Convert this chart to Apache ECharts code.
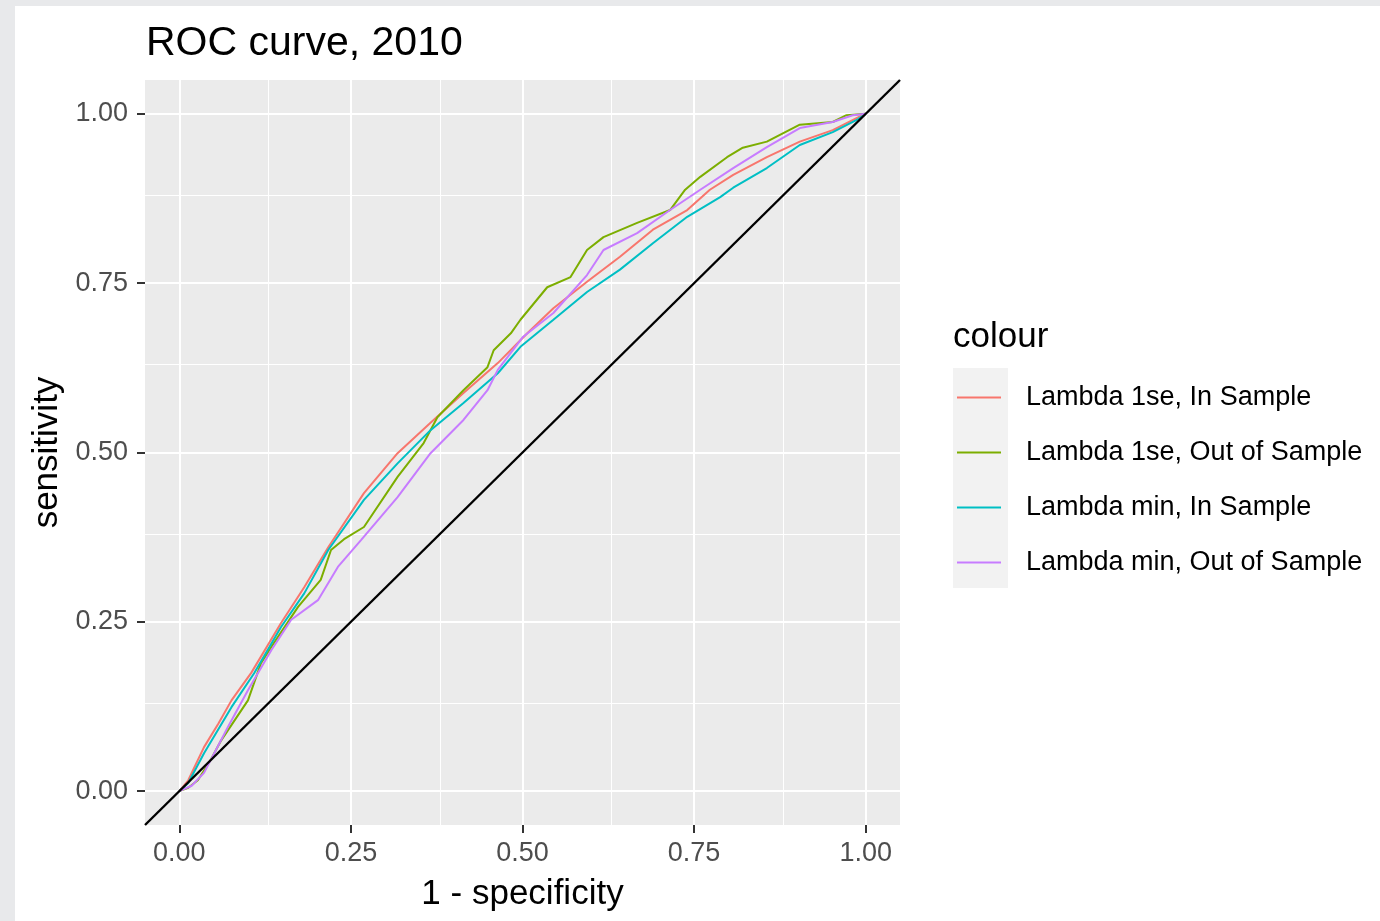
<!DOCTYPE html>
<html>
<head>
<meta charset="utf-8">
<title>ROC curve, 2010</title>
<script src="https://cdn.jsdelivr.net/npm/echarts@6/dist/echarts.min.js"></script>
<style>
  html, body { margin: 0; padding: 0; background: #ffffff; }
  #chart { width: 1380px; height: 921px; }
</style>
</head>
<body>
<div id="chart"></div>
<script>
// Axis breaks
const tickValues = [0, 0.25, 0.5, 0.75, 1];
const minorValues = [0.125, 0.375, 0.625, 0.875];
const axisRange = [-0.05, 1.05];

// Series names
const seriesNames = [
  'Lambda 1se, In Sample',
  'Lambda 1se, Out of Sample',
  'Lambda min, In Sample',
  'Lambda min, Out of Sample'
];

// Lambda 1se, In Sample
const fpr1seIn = [0, 0.013, 0.036, 0.057, 0.076, 0.105, 0.148, 0.182, 0.217, 0.269, 0.318, 0.366, 0.414, 0.464, 0.507, 0.545, 0.594, 0.642, 0.690, 0.740, 0.773, 0.807, 0.856, 0.904, 0.952, 0.991, 1];
const tpr1seIn = [0, 0.016, 0.065, 0.100, 0.134, 0.175, 0.248, 0.301, 0.360, 0.440, 0.499, 0.544, 0.588, 0.632, 0.676, 0.713, 0.752, 0.789, 0.829, 0.858, 0.888, 0.910, 0.936, 0.959, 0.976, 0.996, 1];

// Lambda 1se, Out of Sample
const fpr1seOut = [0, 0.013, 0.027, 0.045, 0.061, 0.100, 0.119, 0.134, 0.173, 0.206, 0.221, 0.240, 0.269, 0.318, 0.356, 0.376, 0.414, 0.449, 0.458, 0.483, 0.497, 0.536, 0.570, 0.594, 0.618, 0.667, 0.715, 0.737, 0.759, 0.798, 0.821, 0.856, 0.904, 0.952, 0.972, 1];
const tpr1seOut = [0, 0.005, 0.016, 0.045, 0.075, 0.134, 0.189, 0.213, 0.272, 0.312, 0.356, 0.372, 0.390, 0.464, 0.514, 0.552, 0.592, 0.626, 0.651, 0.676, 0.696, 0.744, 0.759, 0.799, 0.818, 0.839, 0.858, 0.888, 0.907, 0.936, 0.950, 0.959, 0.984, 0.988, 0.998, 1];

// Lambda min, In Sample
const fprMinIn = [0, 0.013, 0.036, 0.076, 0.109, 0.148, 0.182, 0.217, 0.269, 0.318, 0.366, 0.414, 0.464, 0.497, 0.545, 0.594, 0.642, 0.690, 0.740, 0.788, 0.807, 0.856, 0.904, 0.952, 0.987, 1];
const tprMinIn = [0, 0.012, 0.056, 0.124, 0.174, 0.242, 0.292, 0.356, 0.430, 0.484, 0.533, 0.573, 0.617, 0.656, 0.696, 0.737, 0.770, 0.809, 0.848, 0.877, 0.891, 0.920, 0.954, 0.973, 0.991, 1];

// Lambda min, Out of Sample
const fprMinOut = [0, 0.018, 0.036, 0.071, 0.100, 0.134, 0.163, 0.202, 0.231, 0.265, 0.318, 0.366, 0.414, 0.449, 0.464, 0.501, 0.545, 0.594, 0.618, 0.667, 0.715, 0.759, 0.807, 0.856, 0.904, 0.952, 0.981, 1];
const tprMinOut = [0, 0.008, 0.027, 0.095, 0.149, 0.208, 0.253, 0.282, 0.331, 0.371, 0.434, 0.499, 0.548, 0.592, 0.622, 0.671, 0.706, 0.762, 0.799, 0.824, 0.858, 0.888, 0.920, 0.951, 0.979, 0.988, 0.998, 1];

const palette = ['#F8766D', '#7CAE00', '#00BFC4', '#C77CFF'];
const FONT = '"Liberation Sans", Arial, Helvetica, sans-serif';

function pairs(xs, ys) {
  return xs.map((x, i) => [x, ys[i]]);
}

const curves = [
  pairs(fpr1seIn, tpr1seIn),
  pairs(fpr1seOut, tpr1seOut),
  pairs(fprMinIn, tprMinIn),
  pairs(fprMinOut, tprMinOut)
];

function gridLines(axisKey) {
  const major = tickValues.map(v => ({ [axisKey]: v, lineStyle: { width: 2 } }));
  const minor = minorValues.map(v => ({ [axisKey]: v, lineStyle: { width: 1 } }));
  return minor.concat(major);
}

const chart = echarts.init(document.getElementById('chart'), null, { renderer: 'canvas' });

function valueAxis(name, nameGap, nameRotate, labelMargin) {
  return {
    type: 'value',
    min: axisRange[0],
    max: axisRange[1],
    name: name,
    nameLocation: 'middle',
    nameGap: nameGap,
    nameRotate: nameRotate,
    nameTextStyle: { color: '#000000', fontSize: 35, fontFamily: FONT },
    axisLine: { show: true, onZero: false, lineStyle: { color: 'rgba(0,0,0,0)', width: 0 } },
    axisTick: {
      show: true,
      inside: false,
      customValues: tickValues,
      length: 8,
      lineStyle: { color: '#333333', width: 2 }
    },
    axisLabel: {
      customValues: tickValues,
      formatter: v => v.toFixed(2),
      color: '#4d4d4d',
      fontSize: 27,
      fontFamily: FONT,
      margin: labelMargin
    },
    splitLine: { show: false },
    minorTick: { show: false },
    minorSplitLine: { show: false }
  };
}

const option = {
  backgroundColor: '#ffffff',
  animation: false,
  title: {
    text: 'ROC curve, 2010',
    left: 141,
    top: 18,
    textStyle: { color: '#000000', fontSize: 41, fontWeight: 'normal', fontFamily: FONT }
  },
  graphic: [
    { type: 'rect', shape: { x: 0, y: 0, width: 1380, height: 6 }, style: { fill: '#e8e9eb' }, silent: true },
    { type: 'rect', shape: { x: 0, y: 0, width: 15, height: 921 }, style: { fill: '#e8e9eb' }, silent: true },
    { type: 'rect', shape: { x: 953, y: 368, width: 55, height: 220 }, style: { fill: '#f2f2f2' }, silent: true, z: -1 },
    {
      type: 'text', left: 953, top: 320, silent: true,
      style: { text: 'colour', fill: '#000000', font: '35px ' + FONT }
    }
  ],
  legend: {
    data: seriesNames,
    orient: 'vertical',
    left: 957,
    top: 370,
    padding: 0,
    itemGap: 0,
    itemWidth: 44,
    itemHeight: 55,
    icon: 'path://M0 0H44V2H0Z',
    selectedMode: false,
    textStyle: { color: '#000000', fontSize: 27, lineHeight: 55, fontFamily: FONT, padding: [0, 0, 0, 20] }
  },
  grid: {
    left: 145,
    top: 80,
    width: 755,
    height: 745,
    show: true,
    backgroundColor: '#ebebeb',
    borderWidth: 0,
    containLabel: false
  },
  xAxis: valueAxis('1 - specificity', 52, 0, 15),
  yAxis: valueAxis('sensitivity', 78, 90, 17),
  series: [
    {
      // panel grid lines
      type: 'line',
      name: 'grid',
      data: [],
      silent: true,
      z: 1,
      markLine: {
        z: 1,
        silent: true,
        symbol: ['none', 'none'],
        label: { show: false },
        lineStyle: { color: '#ffffff', type: 'solid' },
        emphasis: { disabled: true },
        animation: false,
        data: gridLines('xAxis').concat(gridLines('yAxis'))
      }
    }
  ].concat(curves.map((d, i) => ({
    type: 'line',
    name: seriesNames[i],
    data: d,
    symbol: 'none',
    z: 3,
    lineStyle: { color: palette[i], width: 2 },
    itemStyle: { color: palette[i] },
    emphasis: { disabled: true }
  }))).concat([
    {
      type: 'line',
      name: 'reference',
      data: axisRange.map(v => [v, v]),
      symbol: 'none',
      z: 4,
      clip: true,
      lineStyle: { color: '#000000', width: 2.4 },
      emphasis: { disabled: true }
    }
  ])
};

chart.setOption(option);
</script>
</body>
</html>
